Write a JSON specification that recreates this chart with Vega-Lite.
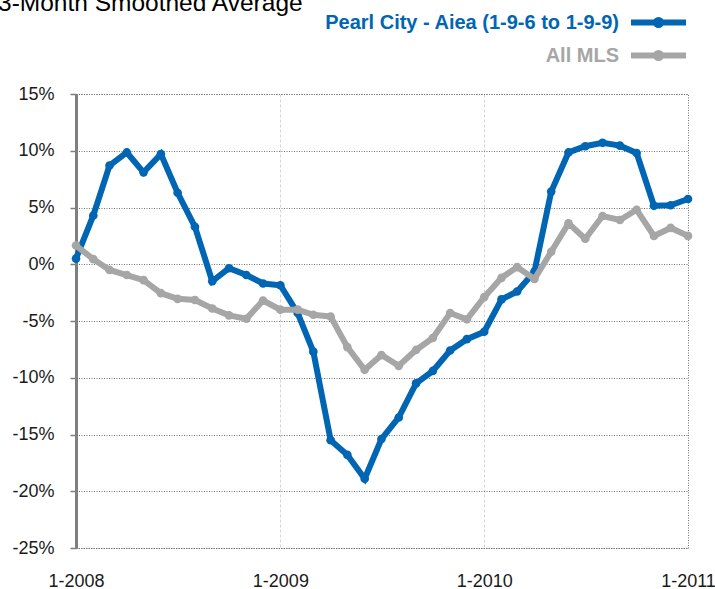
{
  "$schema": "https://vega.github.io/schema/vega-lite/v6.json",
  "width": 612,
  "height": 454,
  "autosize": "none",
  "padding": {"left": 76, "top": 94, "right": 27, "bottom": 41},
  "background": "white",
  "title": {
    "text": "3-Month Smoothed Average",
    "anchor": "start",
    "frame": "group",
    "orient": "top",
    "offset": 0,
    "baseline": "alphabetic",
    "fontSize": 24.5,
    "fontWeight": "normal",
    "font": "Liberation Sans",
    "color": "#000000",
    "dx": -78,
    "dy": 25
  },
  "data": {
    "values": [
      {"date": "2008-01-01", "series": "Pearl City - Aiea (1-9-6 to 1-9-9)", "pct": 0.5},
      {"date": "2008-02-01", "series": "Pearl City - Aiea (1-9-6 to 1-9-9)", "pct": 4.3},
      {"date": "2008-03-01", "series": "Pearl City - Aiea (1-9-6 to 1-9-9)", "pct": 8.7},
      {"date": "2008-04-01", "series": "Pearl City - Aiea (1-9-6 to 1-9-9)", "pct": 9.85},
      {"date": "2008-05-01", "series": "Pearl City - Aiea (1-9-6 to 1-9-9)", "pct": 8.1},
      {"date": "2008-06-01", "series": "Pearl City - Aiea (1-9-6 to 1-9-9)", "pct": 9.7},
      {"date": "2008-07-01", "series": "Pearl City - Aiea (1-9-6 to 1-9-9)", "pct": 6.3},
      {"date": "2008-08-01", "series": "Pearl City - Aiea (1-9-6 to 1-9-9)", "pct": 3.3},
      {"date": "2008-09-01", "series": "Pearl City - Aiea (1-9-6 to 1-9-9)", "pct": -1.5},
      {"date": "2008-10-01", "series": "Pearl City - Aiea (1-9-6 to 1-9-9)", "pct": -0.35},
      {"date": "2008-11-01", "series": "Pearl City - Aiea (1-9-6 to 1-9-9)", "pct": -0.95},
      {"date": "2008-12-01", "series": "Pearl City - Aiea (1-9-6 to 1-9-9)", "pct": -1.7},
      {"date": "2009-01-01", "series": "Pearl City - Aiea (1-9-6 to 1-9-9)", "pct": -1.85},
      {"date": "2009-02-01", "series": "Pearl City - Aiea (1-9-6 to 1-9-9)", "pct": -4.3},
      {"date": "2009-03-01", "series": "Pearl City - Aiea (1-9-6 to 1-9-9)", "pct": -7.7},
      {"date": "2009-04-01", "series": "Pearl City - Aiea (1-9-6 to 1-9-9)", "pct": -15.5},
      {"date": "2009-05-01", "series": "Pearl City - Aiea (1-9-6 to 1-9-9)", "pct": -16.8},
      {"date": "2009-06-01", "series": "Pearl City - Aiea (1-9-6 to 1-9-9)", "pct": -18.9},
      {"date": "2009-07-01", "series": "Pearl City - Aiea (1-9-6 to 1-9-9)", "pct": -15.4},
      {"date": "2009-08-01", "series": "Pearl City - Aiea (1-9-6 to 1-9-9)", "pct": -13.5},
      {"date": "2009-09-01", "series": "Pearl City - Aiea (1-9-6 to 1-9-9)", "pct": -10.5},
      {"date": "2009-10-01", "series": "Pearl City - Aiea (1-9-6 to 1-9-9)", "pct": -9.4},
      {"date": "2009-11-01", "series": "Pearl City - Aiea (1-9-6 to 1-9-9)", "pct": -7.6},
      {"date": "2009-12-01", "series": "Pearl City - Aiea (1-9-6 to 1-9-9)", "pct": -6.6},
      {"date": "2010-01-01", "series": "Pearl City - Aiea (1-9-6 to 1-9-9)", "pct": -5.95},
      {"date": "2010-02-01", "series": "Pearl City - Aiea (1-9-6 to 1-9-9)", "pct": -3.1},
      {"date": "2010-03-01", "series": "Pearl City - Aiea (1-9-6 to 1-9-9)", "pct": -2.4},
      {"date": "2010-04-01", "series": "Pearl City - Aiea (1-9-6 to 1-9-9)", "pct": -0.65},
      {"date": "2010-05-01", "series": "Pearl City - Aiea (1-9-6 to 1-9-9)", "pct": 6.4},
      {"date": "2010-06-01", "series": "Pearl City - Aiea (1-9-6 to 1-9-9)", "pct": 9.85},
      {"date": "2010-07-01", "series": "Pearl City - Aiea (1-9-6 to 1-9-9)", "pct": 10.4},
      {"date": "2010-08-01", "series": "Pearl City - Aiea (1-9-6 to 1-9-9)", "pct": 10.7},
      {"date": "2010-09-01", "series": "Pearl City - Aiea (1-9-6 to 1-9-9)", "pct": 10.45},
      {"date": "2010-10-01", "series": "Pearl City - Aiea (1-9-6 to 1-9-9)", "pct": 9.8},
      {"date": "2010-11-01", "series": "Pearl City - Aiea (1-9-6 to 1-9-9)", "pct": 5.15},
      {"date": "2010-12-01", "series": "Pearl City - Aiea (1-9-6 to 1-9-9)", "pct": 5.2},
      {"date": "2011-01-01", "series": "Pearl City - Aiea (1-9-6 to 1-9-9)", "pct": 5.75},
      {"date": "2008-01-01", "series": "All MLS", "pct": 1.65},
      {"date": "2008-02-01", "series": "All MLS", "pct": 0.45},
      {"date": "2008-03-01", "series": "All MLS", "pct": -0.5},
      {"date": "2008-04-01", "series": "All MLS", "pct": -0.95},
      {"date": "2008-05-01", "series": "All MLS", "pct": -1.4},
      {"date": "2008-06-01", "series": "All MLS", "pct": -2.55},
      {"date": "2008-07-01", "series": "All MLS", "pct": -3.05},
      {"date": "2008-08-01", "series": "All MLS", "pct": -3.15},
      {"date": "2008-09-01", "series": "All MLS", "pct": -3.9},
      {"date": "2008-10-01", "series": "All MLS", "pct": -4.5},
      {"date": "2008-11-01", "series": "All MLS", "pct": -4.8},
      {"date": "2008-12-01", "series": "All MLS", "pct": -3.2},
      {"date": "2009-01-01", "series": "All MLS", "pct": -4.0},
      {"date": "2009-02-01", "series": "All MLS", "pct": -4.0},
      {"date": "2009-03-01", "series": "All MLS", "pct": -4.45},
      {"date": "2009-04-01", "series": "All MLS", "pct": -4.6},
      {"date": "2009-05-01", "series": "All MLS", "pct": -7.3},
      {"date": "2009-06-01", "series": "All MLS", "pct": -9.3},
      {"date": "2009-07-01", "series": "All MLS", "pct": -8.0},
      {"date": "2009-08-01", "series": "All MLS", "pct": -8.95},
      {"date": "2009-09-01", "series": "All MLS", "pct": -7.55},
      {"date": "2009-10-01", "series": "All MLS", "pct": -6.5},
      {"date": "2009-11-01", "series": "All MLS", "pct": -4.3},
      {"date": "2009-12-01", "series": "All MLS", "pct": -4.85},
      {"date": "2010-01-01", "series": "All MLS", "pct": -2.9},
      {"date": "2010-02-01", "series": "All MLS", "pct": -1.2},
      {"date": "2010-03-01", "series": "All MLS", "pct": -0.25},
      {"date": "2010-04-01", "series": "All MLS", "pct": -1.3},
      {"date": "2010-05-01", "series": "All MLS", "pct": 1.1},
      {"date": "2010-06-01", "series": "All MLS", "pct": 3.6},
      {"date": "2010-07-01", "series": "All MLS", "pct": 2.25},
      {"date": "2010-08-01", "series": "All MLS", "pct": 4.25},
      {"date": "2010-09-01", "series": "All MLS", "pct": 3.9},
      {"date": "2010-10-01", "series": "All MLS", "pct": 4.8},
      {"date": "2010-11-01", "series": "All MLS", "pct": 2.5},
      {"date": "2010-12-01", "series": "All MLS", "pct": 3.2},
      {"date": "2011-01-01", "series": "All MLS", "pct": 2.5}
    ]
  },
  "layer": [
    {
      "mark": {"type": "rule", "color": "#7f7f7f", "strokeWidth": 4},
      "encoding": {
        "y": {"datum": 0, "type": "quantitative", "scale": {"domain": [-25, 15], "nice": false, "zero": false}}
      }
    },
    {
      "transform": [{"filter": "datum.series !== 'All MLS'"}],
      "mark": {"type": "line", "strokeWidth": 6, "point": {"filled": true, "size": 75}},
      "encoding": {
        "x": {"field": "date", "type": "temporal"},
        "y": {"field": "pct", "type": "quantitative"},
        "color": {"field": "series", "type": "nominal"}
      }
    },
    {
      "transform": [{"filter": "datum.series === 'All MLS'"}],
      "mark": {"type": "line", "strokeWidth": 6, "point": {"filled": true, "size": 75}},
      "encoding": {
        "x": {"field": "date", "type": "temporal"},
        "y": {"field": "pct", "type": "quantitative"},
        "color": {"field": "series", "type": "nominal"}
      }
    }
  ],
  "encoding": {
    "x": {
      "field": "date",
      "type": "temporal",
      "scale": {
        "type": "utc",
        "domain": [
          {"year": 2008, "month": 1, "date": 1, "utc": true},
          {"year": 2011, "month": 1, "date": 1, "utc": true}
        ]
      },
      "axis": {
        "title": null,
        "values": [
          {"year": 2008, "month": 1, "date": 1, "utc": true},
          {"year": 2009, "month": 1, "date": 1, "utc": true},
          {"year": 2010, "month": 1, "date": 1, "utc": true},
          {"year": 2011, "month": 1, "date": 1, "utc": true}
        ],
        "format": "%-m-%Y",
        "domain": false,
        "ticks": false,
        "tickSize": 0,
        "labelPadding": 24,
        "labelFlush": false,
        "labelOverlap": false,
        "labelFont": "Liberation Sans",
        "labelFontSize": 18,
        "labelColor": "#1a1a1a",
        "grid": true,
        "gridColor": {
          "condition": {"test": "utcyear(datum.value) === 2009 || utcyear(datum.value) === 2010", "value": "#d4d4d4"},
          "value": "rgba(0,0,0,0)"
        },
        "gridDash": [3, 2],
        "gridWidth": 1
      }
    },
    "y": {
      "field": "pct",
      "type": "quantitative",
      "scale": {"domain": [-25, 15], "nice": false, "zero": false},
      "axis": {
        "title": null,
        "values": [-25, -20, -15, -10, -5, 0, 5, 10, 15],
        "labelExpr": "datum.value + '%'",
        "domain": true,
        "domainColor": "#7f7f7f",
        "domainWidth": 3,
        "ticks": true,
        "tickColor": "#7f7f7f",
        "tickSize": 6,
        "tickWidth": 1.5,
        "labelPadding": 16,
        "labelFont": "Liberation Sans",
        "labelFontSize": 18,
        "labelColor": "#1a1a1a",
        "grid": true,
        "gridColor": "#707070",
        "gridDash": [1, 1.5],
        "gridWidth": 1
      }
    },
    "color": {
      "field": "series",
      "type": "nominal",
      "scale": {
        "domain": ["Pearl City - Aiea (1-9-6 to 1-9-9)", "All MLS"],
        "range": ["#0066b3", "#a6a6a6"]
      },
      "legend": {
        "title": null,
        "orient": "none",
        "legendX": 570,
        "legendY": -84,
        "direction": "vertical",
        "padding": 0,
        "symbolType": "M-3,0H3M0.28,0A0.28,0.28 0 1 1 -0.28,0A0.28,0.28 0 1 1 0.28,0Z",
        "symbolSize": 336,
        "symbolStrokeWidth": 6,
        "symbolOpacity": 1,
        "labelAlign": "right",
        "labelOffset": -52,
        "labelFont": "Liberation Sans",
        "labelFontSize": 20,
        "labelFontWeight": "bold",
        "labelLimit": 600,
        "rowPadding": 2,
        "encode": {
          "symbols": {
            "update": {
              "fill": {"scale": "color", "field": "value"},
              "stroke": {"scale": "color", "field": "value"},
              "opacity": {"value": 1}
            }
          },
          "labels": {
            "update": {
              "fill": {"scale": "color", "field": "value"}
            }
          }
        }
      }
    }
  },
  "config": {
    "view": {"stroke": "#707070", "strokeDash": [1, 1.5], "strokeWidth": 1},
    "font": "Liberation Sans"
  }
}
